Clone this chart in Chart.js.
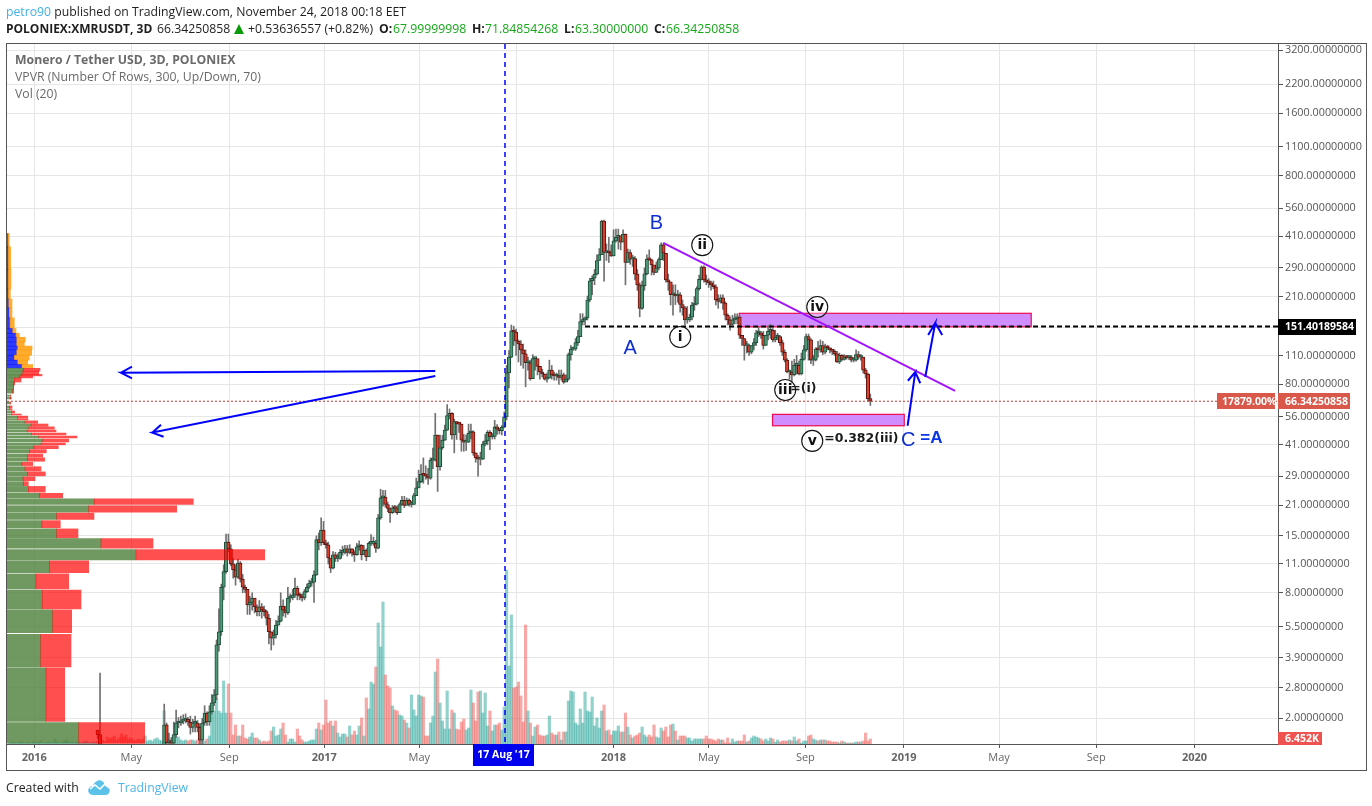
<!DOCTYPE html>
<html><head><meta charset="utf-8">
<style>
html,body{margin:0;padding:0;background:#fff;overflow:hidden}
#wrap{position:relative;width:1372px;height:806px;font-family:"Open Sans",sans-serif;color:#1e1e1e}
canvas{position:absolute;left:0;top:0}
.t{position:absolute;white-space:nowrap;font-size:12.25px;line-height:16px}
.b{font-weight:700}.g{color:#17a81a}
.leg{color:#6a6a6a;font-size:12.25px}
.sym{font-size:12px}
#tri{position:absolute;left:234px;top:24px;width:0;height:0;border-left:5.5px solid transparent;border-right:5.5px solid transparent;border-bottom:10px solid #0a9b0a}
#frame{position:absolute;left:6px;top:43px;width:1359px;height:726px;border:1px solid #555;box-sizing:content-box;pointer-events:none}
</style></head><body><div id="wrap">
<canvas id="c" width="1372" height="806"></canvas>
<div id="frame"></div>
<div class="t" style="left:6px;top:4px"><span style="color:#3fb0e6">petro90</span> published on TradingView.com, November 24, 2018 00:18 EET</div>
<div class="t b sym" style="left:6px;top:21px">POLONIEX:XMRUSDT, 3D</div>
<div class="t" style="left:157px;top:21px">66.34250858</div>
<div id="tri"></div>
<div class="t" style="left:248px;top:21px">+0.53636557 (+0.82%)</div>
<div class="t b" style="left:379px;top:21px">O:</div><div class="t g" style="left:393px;top:21px">67.99999998</div>
<div class="t b" style="left:472px;top:21px">H:</div><div class="t g" style="left:485px;top:21px">71.84854268</div>
<div class="t b" style="left:564px;top:21px">L:</div><div class="t g" style="left:575px;top:21px">63.30000000</div>
<div class="t b" style="left:654px;top:21px">C:</div><div class="t g" style="left:666px;top:21px">66.34250858</div>
<div class="t leg b" style="left:15px;top:52px">Monero / Tether USD, 3D, POLONIEX</div>
<div class="t leg" style="left:15px;top:69px">VPVR (Number Of Rows, 300, Up/Down, 70)</div>
<div class="t leg" style="left:15px;top:86px">Vol (20)</div>
<div class="t" style="left:6px;top:780px">Created with</div>
<svg style="position:absolute;left:87px;top:778px" width="25" height="18" viewBox="0 0 25 18"><path d="M2 15c-2-3 0-7 4-7 1-4 6-7 9-5 2 1 3 3 3 5 4 0 6 4 4 7-1 2-3 2-5 2H6c-2 0-3-1-4-2z" fill="#5cc2ea"/><path d="M3 11l5-4 5 4 5-5 4 4" fill="none" stroke="#fff" stroke-width="1.6"/></svg>
<div class="t" style="left:118px;top:780px;color:#4fb5e8">TradingView</div>
</div>
<script src="https://cdn.jsdelivr.net/npm/chart.js@4/dist/chart.umd.js"></script>
<script>
// ---- time axis (days since 1 Jan 2016) ----
const xTickDays  = [0,122.4,246,366,485.8,608.2,731,851,973,1097.4,1217.4,1340,1464];
const xTickNames = ['2016','May','Sep','2017','May','Sep','2018','May','Sep','2019','May','Sep','2020'];
const lastBarDay = 1055, barStepDays = 3;
// ---- price axis ----
const yTicks = [3200,2200,1600,1100,800,560,410,290,210,150,110,80,56,41,29,21,15,11,8,5.5,3.9,2.8,2];
// ---- candles, 3D bars ----
const closes = [1.67,1.45,1.4,1.38,1.35,1.32,1.3,1.28,1.25,1.22,1.2,1.18,1.15,1.12,1.1,1.08,1.05,1.02,1,0.98,1,1.03,1.07,1.1,1.14,1.18,1.22,1.3,
1.86,1.53,1.56,1.52,1.67,1.90,1.90,1.94,1.96,1.98,
1.92,1.81,1.90,1.90,1.81,1.57,1.90,2.12,1.92,2.15,
2.37,2.59,4.5,5.2,8.5,10.1,14.0,13.0,11.0,10.3,
9.5,11.1,9.3,8.5,8.3,7.0,7.2,7.55,6.85,6.5,
6.85,6.6,6.5,6.05,5.2,4.85,5.02,5.6,5.85,6.9,
6.6,6.4,7.55,7.55,7.8,8.4,7.8,7.7,7.55,8.1,
8.5,8.9,9.0,9.75,14.4,13.9,16.0,13.9,13.6,11.75,
10.5,12.15,11.7,11.7,12.5,12.5,13.0,
12.5,13.0,12.4,12.2,13.3,13.5,12.15,12.8,11.9,13.8,13.8,13.8,13.1,
18.3,22.8,23,21.2,20.3,19.4,20.4,20.3,19.4,21.2,
22.2,21,22.2,21.2,21.2,23.4,25.5,27.3,29.6,29.3,
29,28.4,34.6,34.6,45.7,32.2,39.7,43.2,48.2,56.7,
58,45.7,53,51.6,51.5,43.2,42.2,42.2,46.7,47.3,
37.5,35.5,35,35,41.3,42.8,47,44.8,45,
50,48.8,47.9,49.8,55.8,
90.6,108,144.5,142.5,128.8,124.8,
117,112,101.5,101.5,85.2,106.3,106.3,97.5,91.6,89.6,
84.7,85.7,93.6,88.7,87.7,87.7,86.2,88.7,81.8,84.7,
111,118,118,126.7,135.5,159.7,162.7,166.6,203,251,
258,270,314,335,485,343,
347,342,330,390,
405,413,384,419,307,343,318.5,321,270,240,
185,238,271,318.5,316,299,275,289,317,373,
340,253,248,215,215,212,215,193,186,163,
163,168,192,194,230,255,292,253,248,245,
240,235,203,200,208,196,171.5,163,155,163,
165,168,137.5,132.6,122.8,122.8,114,122.8,126.7,141.4,
141.4,137.5,122.8,137.5,143.4,145.3,130.6,134.5,135.5,126.7,
114,104.4,91.6,91.6,88.7,98.5,98.5,89.6,105.4,117,
135.5,130.6,104.4,104.4,118,117,122.8,114,120.8,119.8,
117,115,112,102.4,110,105.4,108,107.3,108,104.4,
104.4,111,108,108,93.6,89.6,68.3,66.34];
const highs = [1.72,3.3,1.5,1.46,1.4,1.42,1.5,1.38,1.34,1.3,1.28,1.26,1.24,1.2,1.18,1.16,1.14,1.1,1.08,1.06,1.08,1.12,1.15,1.18,1.22,1.26,1.3,1.42,
2.34,1.9,1.7,1.62,1.92,2.19,2.02,2.05,2.08,2.1,
2.02,2.05,1.98,2.05,1.95,1.88,2.0,2.3,2.15,2.3,
2.6,2.75,4.75,6.7,8.8,10.9,15.3,15.3,13.6,11.7,
10.9,11.6,11.3,9.8,8.7,8.3,7.7,8.0,7.4,7.0,
7.35,7.1,6.9,6.6,6.3,5.2,5.3,5.9,6.2,8.0,
7.4,6.9,8.5,7.9,8.3,9.4,8.6,8.0,7.9,8.3,
8.8,9.2,9.4,10.2,15.0,15.5,18.3,17.6,14.3,14.0,
11.7,12.6,12.5,12.3,12.9,13.4,13.5,
13.5,13.6,13.0,12.7,13.8,14.2,13.6,13.5,13.0,14.0,15.2,14.8,14.3,
19,25.1,24.8,24.8,21.8,20.5,21,21,20.9,21.6,
23.2,23.2,22.8,22.6,22,24,28.4,31,33,35.5,
32.5,31.6,35.5,39.5,58,45.7,45.7,45.5,51,64,
60.9,58.5,54.5,53,52,51.6,46,45.7,51.5,51.5,
47.9,37.5,36.5,37.8,42.5,46,48,48,46.5,
53.7,51.2,49.2,50.7,58.9,
98.5,116,153.9,152,147,130.6,
129.6,124.7,117,108,104.4,111,105.4,105.4,96.5,94.6,
89.6,90.6,104.4,98.5,91.6,90.6,93.6,93.6,90.6,88.7,
113,122.8,120.8,132.6,145.3,174.4,174.4,168.6,212,258,
265,284,334,358,490,490,
377,405,373,441,
444,444,408,441,421,356,353,333,328,284,
245,250,289,334,353,318.5,294,309,323,382,
380,336,270,247,240,240,226,220,203,189,
189,173.5,198,211,235,267.5,296,296,267.5,257,
250,250,240,215,215,215,199,174.4,168.6,171.5,
174.4,174.4,171.5,137.5,132.6,128.6,124.7,122.8,132.6,145.3,
150,143.4,143.4,137.5,153,155,148,145.3,140.4,137.5,
130.6,117,106.4,93.6,103.4,105.4,110,103.4,113,122.8,
139.4,139.4,132.6,110,119.8,128.6,130.6,128.6,124.7,122.8,
119.8,117,117,115,113,111,111,110,110,110,
107.4,117,115,111,108,95.5,90.6,71.85];
const lows = [1.6,1.3,1.2,1.2,1.15,1.15,1.1,1.1,1.05,1.05,1,1,0.98,0.95,0.95,0.92,0.92,0.9,0.9,0.88,0.9,0.95,1,1,1.05,1.05,1.1,1.2,
1.45,1.45,1.45,1.45,1.5,1.62,1.8,1.85,1.88,1.9,
1.85,1.68,1.72,1.72,1.72,1.5,1.5,1.85,1.85,1.85,
2.1,2.3,2.45,4.2,5.0,7.4,9.9,12.6,10.8,9.4,
8.7,9.4,9.0,8.0,8.0,6.3,6.3,6.6,6.4,6.2,
6.2,6.05,6.2,5.6,4.55,4.25,4.5,4.85,5.6,5.8,
6.2,6.1,6.3,7.2,7.4,7.6,7.4,7.4,7.3,7.4,
8.0,8.4,8.6,7.2,9.7,12.85,13.5,13.6,13.1,11.0,
10.0,10.4,11.3,11.3,11.6,12.1,12.3,
12.0,12.3,12.0,11.3,12.1,12.8,11.5,12.3,11.4,12.0,13.5,13.5,12.5,
13,18,20.8,20.6,19.6,17.4,19.2,19.5,19,19.4,
21,20.5,21.3,20.8,20.6,21.2,23.4,25.5,27,26.8,
28,26.5,28,31.5,34.3,24.5,31,39,43,48,
54.5,43.6,37.5,43.5,47,38.2,38.2,38.5,42,43.7,
36.5,33.8,29,32.8,34.8,40.5,41,38.9,43.7,
43.7,46,46.2,45.7,49.5,
54,76.8,107.4,122.8,110,102.4,
98.5,95.5,77.8,93.6,83.7,86.7,93.6,88.7,84.7,86.7,
83.7,81.8,85.7,84.7,83.7,83.7,79.8,83.7,80.8,83.7,
83.7,104.4,116.2,116.2,122.8,135.5,154,154,162.7,199,
215,240,267.5,314,338,250,
314,307,328,330,
384,356,353,387,240,307,301,294,253,226,
168.6,183,226,267.5,314,267.5,267.5,275,283,317,
314,247,226,192,171.5,193,198,177.4,171.5,154,
157,160,162.7,181,192,226,253,247,240,233,
226,230,192,185,196,183,162.7,154,145.3,154,
156,156,132.6,122.8,104.4,113,110,112,117,122.8,
135.5,132.6,118,122.8,130.6,132.6,127.7,127.7,130.6,122.8,
110,102.4,90.6,84.7,81.8,87.7,89.6,88.7,88.7,104.4,
115,104.4,100.5,98.5,103.4,108,114,111,112,117,
113,111,110,101.5,100.5,103.4,104.4,105.4,105.4,102.4,
102.4,103.4,105.4,104.4,90.6,85.7,66.3,63.3];
// ---- volume, in units of 1.173K per step ----
const volumeUnitK = 1.173;
const volumes = [1,2,1,1,2,2,1,1,2,1,2,2,1,3,1,1,2,2,1,5,2,1,1,3,4,2,2,1,2,2,1,2,3,2,1,2,2,3,
6,4,3,7,5,6,8,4,6,10,7,9,5,6,4,3,5,4,5,8,3,4,3,5,6,4,3,
33,6,5,4,4,7,7,4,3,4,3,4,4,3,4,5,4,3,5,8,37,33,46,33,31,63,31,60,31,9,
19,8,8,19,6,5,7,11,6,6,4,2,3,2,3,13,17,8,9,15,21,9,2,5,5,2,15,8,4,2,2,3,4,4,
15,21,14,19,44,21,23,18,23,11,7,10,10,7,18,9,13,9,18,26,8,46,35,62,60,77,121,97,142,69,58,56,
38,34,33,29,28,24,21,16,49,34,28,49,48,47,8,8,21,28,72,85,41,23,15,53,15,34,31,15,14,22,25,14,16,54,41,23,52,53,31,51,18,33,13,19,19,21,14,37,174,78,129,
56,57,62,48,22,119,33,21,8,17,19,9,8,8,9,28,11,9,9,12,4,12,12,43,53,52,21,19,35,21,52,33,32,47,18,26,16,
33,39,13,14,9,13,13,18,12,12,
31,17,9,6,8,9,11,17,9,7,9,7,19,7,6,16,13,17,7,19,20,13,4,8,8,8,6,6,3,5,5,5,5,5,8,5,5,4,3,5,4,4,1,6,1,5,2,3,3,3,9,2,3,6,8,7,6,5,3,5,3,6,5,2,4,2,3,3,3,4,3,7,3,5,1,3,3,8,9,5,4,3,4,4,4,3,3,2,2,2,1,3,2,1,1,1,1,2,2,2,3,11,3,5];
// ---- volume profile rows: price band, up width, up+down width ----
const vpLow  = [1.52,1.93,3.53,5.15,6.7,8.35,10,11.5,13.1,14.65,16.4,18,19.5,21.2,22.8,24.3,26.1,27.6,29.1,30.7,32.6,34.2,35.8,37.5,39.3,41,42.3,44.2,45.7,47.3,48.8,50.3,52,54,55,57,58.3,60.3,61.5,64.4,68,70.3,72.5,75.5,79.4,82,85.8,87.8,89.2,92.5,95.6,99.5,104.4,110.2,117,122,127.7,134.5,140.5,148,166.5,186,205,229,284,365];
const vpHigh = [1.91,3.49,5.05,6.62,8.25,9.85,11.4,12.9,14.55,16.2,17.75,19.3,20.9,22.6,24,25.9,27.3,28.8,30.4,32.2,33.8,35.5,37,38.9,40.6,41.8,43.7,45.2,46.7,48.3,50,51.6,53.4,54.5,56.3,57.6,59.6,60.9,63,65.8,69.5,71,75.5,79.4,82,85.8,87.8,89.2,92.5,95.4,99.5,104.4,110.2,117,122,127.7,134.5,140.5,148,166.5,186,205,229,284,365,423];
const vpUp   = [71.7,39,33.7,45.7,35.3,29,42.3,129,94,49.7,35,49.7,81.7,87.3,32.7,21.3,16.7,16,20.7,18,14.7,20.3,20.7,22.7,26.7,34,35.7,31.7,24.7,20,21.7,24,18,10.7,10.3,4.3,4.3,2.3,2.3,3.3,3.3,3.7,5.7,6.3,6.3,7.3,12.3,14,15.7,16.3,15,10.7,7.3,9.7,10.7,9.7,9.7,9,5.7,3,2.3,1.7,1.3,1.3,1.3,1];
const vpAll  = [137.7,57.7,64,64.7,74,61.7,81.7,257.7,146,71,53.3,87,169.7,186.3,55.7,38.3,21.3,28,38.3,34,25.7,37.7,35.7,39.3,51.3,58.3,61.7,70,59,49,47.3,41,30.7,21,20.7,14.3,7.7,5,5,3.6,4.3,4,6.7,6.7,7.7,14,25.7,35,31.7,33,25.7,20.7,22.3,24.7,25,17.3,18.3,12.3,9,7.3,5,5,3.3,4,3.7,2.3];
const vpSplitPrice = 95.5;
// ---- drawings (x in days, y in price) ----
const trendLine   = [[793.7,381],[1162,74.3]];
const leftArrow1  = [[123.3,97.1],[109.4,90.9],[123.3,85.4],[109.4,90.9],[506,92.6]];
const leftArrow2  = [[159.9,51.2],[148.9,46.9],[163.2,44.8],[148.9,46.9],[506,87.6]];
const upArrow1    = [[1102,50.6],[1111.7,91.6],[1102.4,83.2],[1111.7,91.6],[1118,80.9]];
const upArrow2    = [[1124.3,86.7],[1136.9,157.4],[1128,137.9],[1136.9,157.4],[1145.7,137.9]];
const resistance  = 151.40189584, resistanceStart = 695;
const lastPrice   = 66.34250858;
const crossDay    = 594;
const boxes       = [[889.6,1258,151,175.2],[931.6,1097.8,50.6,57.4]];
const circleMarks = [['ii',842.9,372],['i',815.1,134.9],['iv',988,187.8],['iii',947.6,75.1],['v',981.7,42.8]];
const waveNotes   = [['=(i)',954,75.9],['=0.382(iii)',996.8,43.7]];
const bigLetters  = [['A',752,119.4],['B',785,470],['C',1102.8,42.8]];
const equalsA     = ['=A',1118,44.2];

const N = closes.length;
const axisFloor = 1.506;
const dayOf = (i,len)=> lastBarDay - barStepDays*(len-1-i);
const opens = closes.map((c,i)=> i? closes[i-1] : 1.75);
const isUp  = closes.map((c,i)=> c>=opens[i]);
const volOffset = volumes.length - N;
const pts = a => a.map(p=>({x:p[0],y:p[1]}));
const line = (data,color,width,dash,order)=>({type:'line',data,borderColor:color,borderWidth:width,borderDash:dash||[],pointRadius:0,tension:0,fill:false,order,xAxisID:'x',yAxisID:'y',parsing:false});

const datasets = [];
datasets.push({type:'bar',order:50,xAxisID:'x',yAxisID:'vol',grouped:false,barThickness:2.5,
  data:volumes.map((v,i)=>({x:dayOf(i,volumes.length),y:v*volumeUnitK})),
  backgroundColor:volumes.map((v,i)=>{const k=i-volOffset;return (k>=0&&!isUp[k])?'rgba(239,83,80,.5)':'rgba(38,166,154,.5)';}),borderWidth:0});
datasets.push({type:'bar',order:40,xAxisID:'x',yAxisID:'y',grouped:false,barThickness:1,
  data:closes.map((c,i)=>({x:dayOf(i,N),y:[lows[i],highs[i]]})),backgroundColor:'#707070',borderWidth:0});
// bodies wholly below the visible price range are off the chart
const visibleBars = closes.map((c,i)=>i).filter(i=>Math.max(opens[i],closes[i])>axisFloor);
datasets.push({type:'bar',order:30,xAxisID:'x',yAxisID:'y',grouped:false,barThickness:3.4,minBarLength:2,borderSkipped:false,
  data:visibleBars.map(i=>({x:dayOf(i,N),y:[opens[i],closes[i]]})),
  backgroundColor:visibleBars.map(i=>isUp[i]?'#4d9a78':'#d8412f'),borderColor:visibleBars.map(i=>isUp[i]?'#1d4d38':'#5e1410'),borderWidth:1});
vpLow.forEach((lo,i)=>{
  const mid=Math.sqrt(lo*vpHigh[i]), blue=lo>vpSplitPrice;
  datasets.push({type:'bar',indexAxis:'y',order:20,xAxisID:'vp',yAxisID:'y',grouped:false,barThickness:1,borderWidth:0,
    data:[{x:[0,vpUp[i]],y:mid},{x:[vpUp[i],vpAll[i]],y:mid}],
    backgroundColor:blue?['rgba(0,15,255,.82)','rgba(255,152,0,.82)']:['rgba(80,130,62,.82)','rgba(255,0,0,.69)']});
});
datasets.push(line([{x:crossDay,y:3429},{x:crossDay,y:axisFloor}],'#0000ff',1.5,[5,4],6));
datasets.push(line([{x:-34.4,y:lastPrice},{x:1569.4,y:lastPrice}],'#c0392b',1,[2,2],5));
datasets.push(line([{x:resistanceStart,y:resistance},{x:1569.4,y:resistance}],'#000',2,[5,3],4));
datasets.push(line(pts(trendLine),'#a214ff',2,[],3));
[leftArrow1,leftArrow2,upArrow1,upArrow2].forEach(a=>datasets.push(line(pts(a),'#0000ff',2,[],2)));

const markup = {
 id:'markup',
 beforeDatasetsDraw(ch){
  const c=ch.ctx,X=ch.scales.x,Y=ch.scales.y;
  boxes.forEach(b=>{
   const l=X.getPixelForValue(b[0]),r=X.getPixelForValue(b[1]),t=Y.getPixelForValue(b[3]),u=Y.getPixelForValue(b[2]);
   c.fillStyle='#cf8dff';c.fillRect(l,t,r-l,u-t);c.strokeStyle='#ee0a50';c.lineWidth=1.2;c.strokeRect(l,t,r-l,u-t);
  });
 },
 afterDraw(ch){
  const c=ch.ctx,X=ch.scales.x,Y=ch.scales.y,V=ch.scales.vol;
  c.save();c.textBaseline='middle';
  circleMarks.forEach(m=>{
   const x=X.getPixelForValue(m[1]),y=Y.getPixelForValue(m[2]);
   c.beginPath();c.arc(x,y,10.5,0,Math.PI*2);c.fillStyle='rgba(255,255,255,.35)';c.fill();c.strokeStyle='#111';c.lineWidth=1.1;c.stroke();
   c.fillStyle='#111';c.font='bold 14px "DejaVu Sans"';c.textAlign='center';c.fillText(m[0],x,y+.5);
  });
  c.textAlign='left';c.fillStyle='#1a1a1a';c.font='bold 12.5px "DejaVu Sans"';
  waveNotes.forEach(n=>c.fillText(n[0],X.getPixelForValue(n[1]),Y.getPixelForValue(n[2])));
  c.textAlign='center';c.fillStyle='#0f2fd0';c.font='20px "Liberation Sans"';
  bigLetters.forEach(n=>c.fillText(n[0],X.getPixelForValue(n[1]),Y.getPixelForValue(n[2])));
  c.textAlign='left';c.fillStyle='#0b35e8';c.font='bold 17px "Liberation Sans"';
  c.fillText(equalsA[0],X.getPixelForValue(equalsA[1]),Y.getPixelForValue(equalsA[2]));
  const tag=(l,r,yc,h,bg,txt,tx)=>{c.fillStyle=bg;c.fillRect(l,Math.round(yc-h/2),r-l,h);c.fillStyle='#fff';c.font='bold 10.5px "Open Sans"';c.textAlign='left';c.fillText(txt,tx,yc+.5);};
  const R=ch.chartArea.right;
  tag(R,1356,Y.getPixelForValue(resistance),16,'#000','151.40189584',R+7);
  tag(R,1350,Y.getPixelForValue(lastPrice),16,'#d9584a','66.34250858',R+7);
  tag(1217,1275,Y.getPixelForValue(lastPrice),16,'#d9584a','17879.00%',1222);
  tag(R,1322,V.getPixelForValue(6.452),13,'#ef5350','6.452K',R+7);
  c.fillStyle='#0000ee';c.fillRect(473,744,61,22);
  c.fillStyle='#fff';c.font='bold 10.5px "Open Sans"';c.textAlign='center';c.fillText("17 Aug '17",503.5,755.5);
  c.restore();
 }
};

const tickFont = {family:'"Open Sans"',size:10.8};
const chart = new Chart(document.getElementById('c'),{
 data:{datasets},
 plugins:[markup],
 options:{
  responsive:false,animation:false,devicePixelRatio:1,
  layout:{padding:{left:7,top:44,right:7,bottom:36}},
  plugins:{legend:{display:false},tooltip:{enabled:false}},
  events:[],
  scales:{
   x:{type:'linear',position:'bottom',min:-34.4,max:1569.4,bounds:'data',offset:false,
      grid:{offset:false,color:'#e6e6e6',tickColor:'#555',tickLength:4,lineWidth:1},border:{color:'#555',width:1},
      afterBuildTicks(s){s.ticks=xTickDays.map(v=>({value:v}));},
      afterFit(s){s.height=26;},
      ticks:{autoSkip:false,maxRotation:0,padding:3,color:'#666',
        font:ctx=>({family:'"Open Sans"',size:11,weight:(ctx.index%3===0)?'bold':'normal'}),
        callback:(v,i)=>xTickNames[i]}},
   y:{type:'logarithmic',position:'right',min:axisFloor,max:3429,bounds:'data',offset:false,
      grid:{offset:false,color:'#e6e6e6',tickColor:'#555',tickLength:5,lineWidth:1},border:{color:'#555',width:1},
      afterBuildTicks(s){s.ticks=yTicks.map(v=>({value:v}));},
      afterFit(s){s.width=87;},
      ticks:{autoSkip:false,padding:2,color:'#555',font:tickFont,callback:v=>Number(v).toFixed(8)}},
   vol:{type:'linear',display:false,offset:false,min:0,max:700*volumeUnitK,position:'right'},
   vp:{type:'linear',display:false,offset:false,min:0,max:1271,position:'bottom'}
  }
 }
});
// row heights of the volume profile follow the price scale
let dsIdx=3;
vpLow.forEach((lo,i)=>{
 const px=chart.scales.y.getPixelForValue(lo)-chart.scales.y.getPixelForValue(vpHigh[i]);
 chart.data.datasets[dsIdx++].barThickness=Math.max(px,1);
});
chart.update('none');
</script></body></html>
